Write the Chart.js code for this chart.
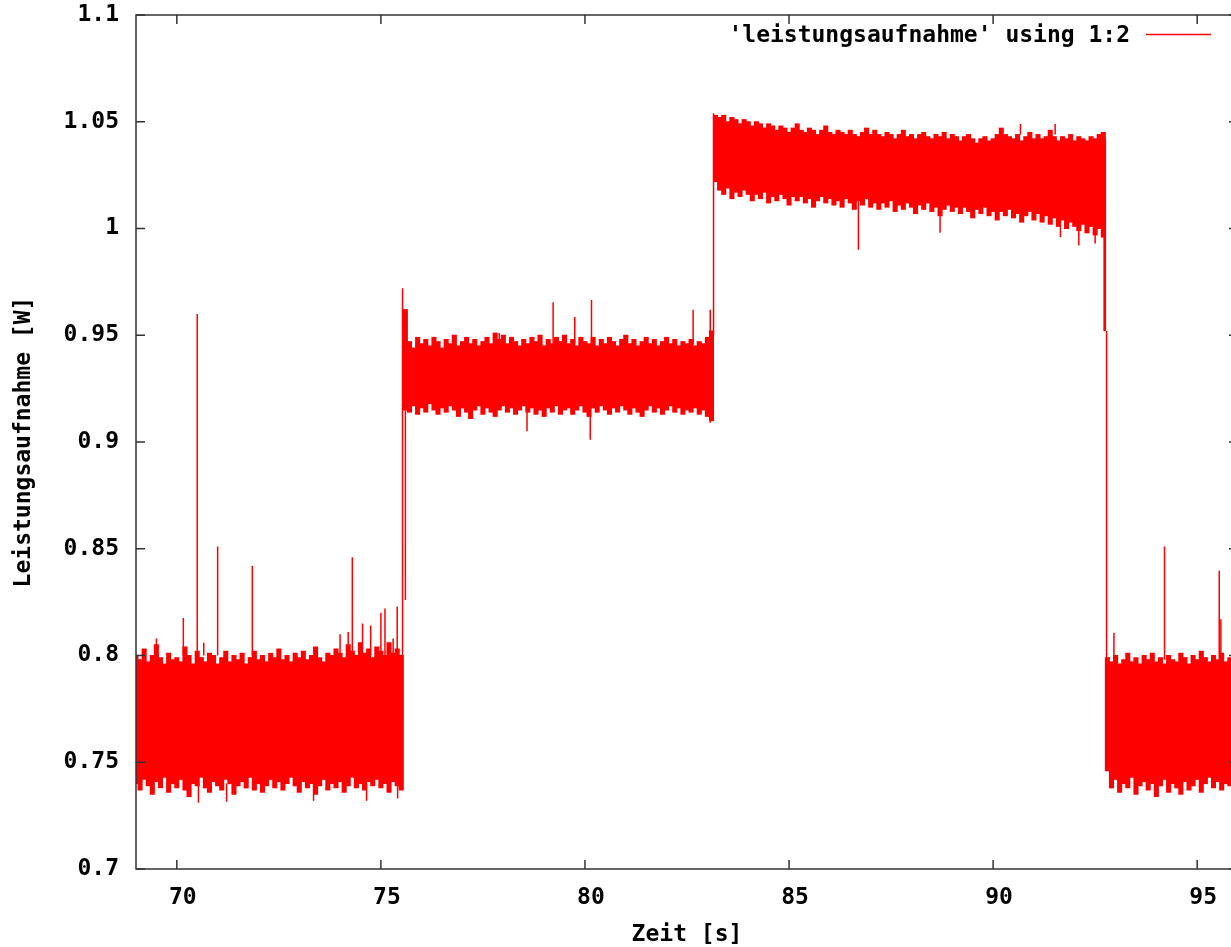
<!DOCTYPE html>
<html>
<head>
<meta charset="utf-8">
<title>Leistungsaufnahme</title>
<script src="https://cdn.jsdelivr.net/npm/chart.js@4.4.1/dist/chart.umd.min.js"></script>
<style>
  html, body { margin: 0; padding: 0; background: #fff; overflow: hidden; }
  #wrap { width: 1231px; height: 947px; overflow: hidden; }
  canvas { display: block; }
</style>
</head>
<body>
<div id="wrap"><canvas id="chart" width="1250" height="947"></canvas></div>
<script>
var xTicks = [70, 75, 80, 85, 90, 95];
var yTicks = [0.7, 0.75, 0.8, 0.85, 0.9, 0.95, 1.0, 1.05, 1.1];
var yTickLabels = ['0.7', '0.75', '0.8', '0.85', '0.9', '0.95', '1', '1.05', '1.1'];

// each level starts at this time, one sample bin every 0.1 s
var segmentStart = [69.0, 75.6, 83.2, 92.8];
var sampleStep = 0.1;

var upper1 = [
    0.800, 0.798, 0.803, 0.797, 0.800, 0.805, 0.799, 0.796, 0.801, 0.798,
    0.799, 0.797, 0.804, 0.800, 0.796, 0.802, 0.799, 0.797, 0.801, 0.800,
    0.796, 0.799, 0.802, 0.797, 0.800, 0.798, 0.801, 0.796, 0.799, 0.802,
    0.798, 0.800, 0.797, 0.801, 0.799, 0.803, 0.798, 0.800, 0.797, 0.801,
    0.799, 0.802, 0.798, 0.800, 0.804, 0.799, 0.797, 0.801, 0.800, 0.803,
    0.801, 0.799, 0.805, 0.802, 0.800, 0.806, 0.801, 0.803, 0.799, 0.804,
    0.802, 0.800, 0.806, 0.801, 0.803, 0.800
];
var lower1 = [
    0.740, 0.737, 0.742, 0.739, 0.735, 0.741, 0.738, 0.743, 0.736, 0.740,
    0.738, 0.742, 0.737, 0.734, 0.740, 0.739, 0.743, 0.738, 0.736, 0.741,
    0.739, 0.737, 0.742, 0.740, 0.735, 0.739, 0.741, 0.738, 0.743, 0.737,
    0.740, 0.736, 0.739, 0.742, 0.738, 0.741, 0.737, 0.740, 0.743, 0.739,
    0.736, 0.741, 0.738, 0.740, 0.735, 0.739, 0.742, 0.737, 0.740, 0.738,
    0.741, 0.736, 0.739, 0.743, 0.738, 0.740, 0.737, 0.741, 0.739, 0.742,
    0.738, 0.740, 0.736, 0.741, 0.739, 0.737
];

var upper2 = [
    0.962, 0.947, 0.944, 0.949, 0.946, 0.948, 0.945, 0.949, 0.947, 0.944,
    0.948, 0.946, 0.950, 0.945, 0.947, 0.949, 0.946, 0.948, 0.945, 0.947,
    0.949, 0.946, 0.951, 0.948, 0.950, 0.946, 0.949, 0.947, 0.945, 0.948,
    0.946, 0.949, 0.947, 0.950, 0.945, 0.948, 0.946, 0.949, 0.947, 0.950,
    0.946, 0.948, 0.945, 0.949, 0.947, 0.946, 0.949, 0.945, 0.948, 0.946,
    0.949, 0.947, 0.945, 0.948, 0.950, 0.946, 0.948, 0.945, 0.947, 0.949,
    0.946, 0.948, 0.945, 0.947, 0.949, 0.946, 0.948, 0.945, 0.947, 0.946,
    0.948, 0.945, 0.947, 0.946, 0.949, 0.952
];
var lower2 = [
    0.915, 0.914, 0.917, 0.913, 0.916, 0.914, 0.918, 0.915, 0.913, 0.916,
    0.914, 0.917, 0.915, 0.912, 0.916, 0.914, 0.911, 0.915, 0.917, 0.913,
    0.916, 0.914, 0.912, 0.915, 0.917, 0.914, 0.916, 0.913, 0.915, 0.917,
    0.914, 0.916, 0.913, 0.915, 0.912, 0.916, 0.914, 0.917, 0.913, 0.915,
    0.916, 0.913, 0.915, 0.917, 0.914, 0.912, 0.916, 0.914, 0.917, 0.915,
    0.913, 0.916, 0.914, 0.917, 0.915, 0.913, 0.916, 0.914, 0.912, 0.915,
    0.917, 0.914, 0.916, 0.913, 0.915, 0.917, 0.914, 0.916, 0.913, 0.915,
    0.914, 0.916, 0.913, 0.915, 0.912, 0.910
];

var upper3 = [
    1.053, 1.052, 1.053, 1.050, 1.052, 1.051, 1.049, 1.051, 1.050, 1.048,
    1.050, 1.049, 1.047, 1.049, 1.048, 1.046, 1.048, 1.047, 1.045, 1.047,
    1.049, 1.046, 1.045, 1.047, 1.046, 1.044, 1.046, 1.048, 1.045, 1.044,
    1.046, 1.045, 1.044, 1.046, 1.044, 1.043, 1.045, 1.047, 1.044, 1.046,
    1.044, 1.043, 1.045, 1.044, 1.042, 1.044, 1.046, 1.043, 1.044, 1.042,
    1.044, 1.045, 1.043, 1.042, 1.044, 1.043, 1.045, 1.042, 1.044, 1.043,
    1.041, 1.043, 1.044, 1.042, 1.040, 1.042, 1.043, 1.041, 1.042, 1.044,
    1.047, 1.044, 1.043, 1.042, 1.044, 1.041, 1.043, 1.045, 1.042, 1.044,
    1.042, 1.043, 1.046, 1.043, 1.041, 1.043, 1.042, 1.044, 1.041, 1.043,
    1.042, 1.041, 1.043, 1.042, 1.044, 1.045
];
var lower3 = [
    1.022, 1.018, 1.016, 1.019, 1.014, 1.017, 1.015, 1.018, 1.016, 1.013,
    1.016, 1.014, 1.017, 1.012, 1.015, 1.013, 1.016, 1.014, 1.011, 1.015,
    1.013, 1.015, 1.012, 1.014, 1.010, 1.013, 1.015, 1.012, 1.014, 1.011,
    1.013, 1.010, 1.014, 1.012, 1.009, 1.013, 1.011, 1.014, 1.010, 1.012,
    1.009, 1.012, 1.010, 1.013, 1.008, 1.011, 1.009, 1.012, 1.010, 1.007,
    1.011, 1.009, 1.012, 1.008, 1.010, 1.006, 1.009, 1.011, 1.008, 1.010,
    1.007, 1.010, 1.008, 1.005, 1.009, 1.007, 1.010, 1.006, 1.008, 1.004,
    1.008, 1.006, 1.009, 1.005, 1.007, 1.003, 1.006, 1.008, 1.004, 1.007,
    1.003, 1.006, 1.002, 1.005, 1.001, 1.004, 1.000, 1.003, 1.001, 0.999,
    1.002, 0.998, 1.001, 0.997, 1.000, 0.996
];

var upper4 = [
    0.799, 0.797, 0.800, 0.796, 0.798, 0.801, 0.797, 0.799, 0.796, 0.800,
    0.798, 0.801, 0.797, 0.799, 0.796, 0.800, 0.798, 0.797, 0.801, 0.799,
    0.796, 0.800, 0.798, 0.802, 0.799, 0.797, 0.800, 0.798, 0.801, 0.797,
    0.799, 0.800, 0.798
];
var lower4 = [
    0.746, 0.738, 0.742, 0.736, 0.740, 0.738, 0.743, 0.735, 0.739, 0.741,
    0.737, 0.740, 0.734, 0.739, 0.742, 0.736, 0.740, 0.738, 0.735, 0.741,
    0.737, 0.739, 0.742, 0.736, 0.740, 0.743, 0.738, 0.741, 0.737, 0.740,
    0.739, 0.742, 0.738
];

// single samples sticking out of the band, and the jumps between levels
var spikeX = [
    69.5, 70.16, 70.5, 70.53, 70.66, 71.0, 71.22, 71.85, 73.35, 74.0,
    74.2, 74.3, 74.55, 74.65, 74.75, 75.0, 75.1, 75.3, 75.4, 75.41,
    75.53, 75.6, 77.9, 78.58, 79.22, 79.75, 80.13, 80.16, 82.65, 83.07,
    83.15, 86.7, 88.7, 90.67, 91.52, 91.65, 92.1, 92.5, 92.72, 92.75,
    92.78, 92.96, 94.2, 95.54, 95.58
];
var spikeFrom = [
    0.800, 0.800, 0.800, 0.740, 0.800, 0.800, 0.740, 0.800, 0.740, 0.800,
    0.800, 0.800, 0.800, 0.740, 0.800, 0.800, 0.800, 0.800, 0.800, 0.740,
    0.770, 0.826, 0.946, 0.914, 0.946, 0.946, 0.914, 0.946, 0.946, 0.909,
    0.950, 1.015, 1.010, 1.044, 1.044, 1.005, 1.000, 1.000, 0.952, 0.952,
    0.799, 0.798, 0.798, 0.798, 0.798
];
var spikeTo = [
    0.808, 0.8176, 0.960, 0.731, 0.806, 0.851, 0.7315, 0.842, 0.732, 0.810,
    0.811, 0.846, 0.815, 0.732, 0.814, 0.820, 0.822, 0.808, 0.823, 0.733,
    0.972, 0.962, 0.951, 0.905, 0.9655, 0.9586, 0.901, 0.9665, 0.962, 0.962,
    1.054, 0.990, 0.998, 1.049, 1.049, 0.996, 0.992, 0.993, 1.045, 1.042,
    0.952, 0.8106, 0.851, 0.8397, 0.817
];

var seriesLabel = "'leistungsaufnahme' using 1:2";
var red = '#ff0000';
var monoFont = { family: 'DejaVu Sans Mono', size: 23, weight: 'bold' };

function bandPoints(start, upper, lower) {
    return upper.map(function (u, i) {
        return { x: Math.round((start + i * sampleStep) * 100) / 100, y: [lower[i], u] };
    });
}

var bandData = [].concat(
    bandPoints(segmentStart[0], upper1, lower1),
    bandPoints(segmentStart[1], upper2, lower2),
    bandPoints(segmentStart[2], upper3, lower3),
    bandPoints(segmentStart[3], upper4, lower4)
);

var spikeData = [];
spikeX.forEach(function (x, i) {
    spikeData.push({ x: x, y: spikeFrom[i] }, { x: x, y: spikeTo[i] }, { x: x, y: null });
});

// gnuplot style frame with inward ticks on all sides, plus the key
var framePlugin = {
    id: 'frame',
    afterDatasetsDraw: function (chart) {
        var ctx = chart.ctx;
        var a = chart.chartArea;
        var sx = chart.scales.x;
        var sy = chart.scales.y;
        ctx.save();
        ctx.strokeStyle = '#333';
        ctx.lineWidth = 1.5;
        ctx.strokeRect(a.left, a.top, a.right - a.left, a.bottom - a.top);
        ctx.beginPath();
        xTicks.forEach(function (v) {
            var px = sx.getPixelForValue(v);
            ctx.moveTo(px, a.bottom); ctx.lineTo(px, a.bottom - 9);
            ctx.moveTo(px, a.top); ctx.lineTo(px, a.top + 9);
        });
        yTicks.forEach(function (v) {
            var py = sy.getPixelForValue(v);
            ctx.moveTo(a.left, py); ctx.lineTo(a.left + 9, py);
            ctx.moveTo(a.right, py); ctx.lineTo(a.right - 9, py);
        });
        ctx.stroke();

        ctx.font = 'bold 23px "DejaVu Sans Mono"';
        ctx.fillStyle = '#000';
        ctx.textAlign = 'right';
        ctx.textBaseline = 'middle';
        ctx.fillText(chart.data.datasets[0].label, a.right - 108, a.top + 21);
        ctx.strokeStyle = red;
        ctx.lineWidth = 1.5;
        ctx.beginPath();
        ctx.moveTo(a.right - 92, a.top + 19.5);
        ctx.lineTo(a.right - 27, a.top + 19.5);
        ctx.stroke();
        ctx.restore();
    }
};

Chart.defaults.color = '#000';

new Chart(document.getElementById('chart'), {
    type: 'bar',
    data: {
        datasets: [
            {
                type: 'bar',
                label: seriesLabel,
                data: bandData,
                backgroundColor: red,
                borderWidth: 0,
                barPercentage: 1,
                categoryPercentage: 1,
                inflateAmount: 0.5,
                clip: 0,
            },
            {
                type: 'line',
                label: 'spikes',
                data: spikeData,
                borderColor: red,
                borderWidth: 1.5,
                pointRadius: 0,
                pointHitRadius: 0,
                fill: false,
                spanGaps: false,
                clip: 0,
            },
        ],
    },
    options: {
        responsive: false,
        animation: false,
        events: [],
        layout: { padding: { top: 15, right: 12, bottom: 0, left: 0 } },
        plugins: {
            legend: { display: false },
            tooltip: { enabled: false },
        },
        scales: {
            x: {
                type: 'linear',
                min: 69,
                max: 96,
                offset: false,
                grid: { display: false, drawTicks: false },
                border: { display: false },
                afterBuildTicks: function (s) {
                    s.ticks = xTicks.map(function (v) { return { value: v }; });
                },
                afterFit: function (s) {
                    s.height = 78;
                    s.paddingLeft = 0;
                    s.paddingRight = 0;
                },
                ticks: {
                    font: monoFont,
                    padding: 15,
                    labelOffset: 6,
                    maxRotation: 0,
                    callback: function (v) { return String(v); },
                },
                title: {
                    display: true,
                    text: 'Zeit [s]',
                    font: { family: 'DejaVu Sans Mono', size: 23, weight: 'bold', lineHeight: 1 },
                    padding: { top: 0, bottom: 0 },
                },
            },
            y: {
                type: 'linear',
                min: 0.7,
                max: 1.1,
                grid: { display: false, drawTicks: false },
                border: { display: false },
                afterBuildTicks: function (s) {
                    s.ticks = yTicks.map(function (v) { return { value: v }; });
                },
                afterFit: function (s) {
                    s.width = 136;
                    s.paddingTop = 0;
                    s.paddingBottom = 0;
                },
                ticks: {
                    font: monoFont,
                    padding: 17,
                    callback: function (v, i) { return yTickLabels[i]; },
                },
                title: {
                    display: true,
                    text: 'Leistungsaufnahme [W]',
                    font: { family: 'DejaVu Sans Mono', size: 23, weight: 'bold', lineHeight: 1 },
                    padding: { top: 13, bottom: 0 },
                },
            },
        },
    },
    plugins: [framePlugin],
});
</script>
</body>
</html>
